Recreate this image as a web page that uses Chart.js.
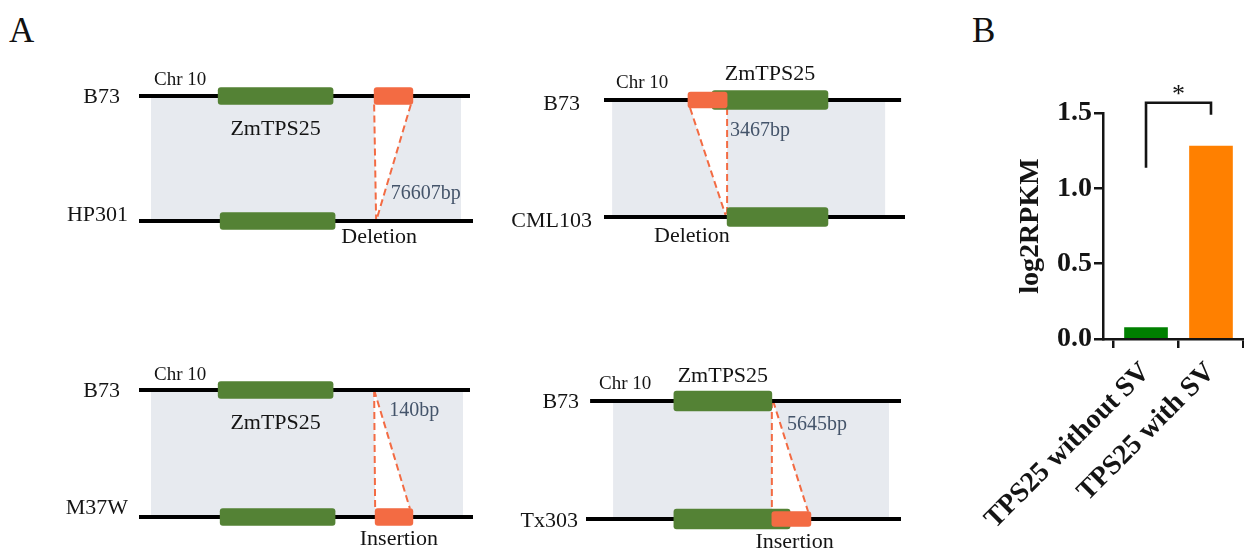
<!DOCTYPE html>
<html>
<head>
<meta charset="utf-8">
<script src="https://cdn.jsdelivr.net/npm/chart.js@4.4.1/dist/chart.umd.min.js"></script>
<style>
  html, body { margin: 0; padding: 0; background: #fff; }
  #fig { position: relative; width: 1244px; height: 550px; overflow: hidden; background: #fff; }
  #fig canvas { position: absolute; }
  .tag { position: absolute; font-family: "Liberation Serif", "Times New Roman", serif;
         font-size: 35px; line-height: 35px; color: #111; }
</style>
</head>
<body>
<div id="fig">
  <div class="tag" style="left:9px; top:13px;">A</div>
  <div class="tag" style="left:972px; top:13px;">B</div>
  <canvas id="sv0" width="480" height="275" style="left:0; top:0;"></canvas>
  <canvas id="sv1" width="480" height="275" style="left:480px; top:0;"></canvas>
  <canvas id="sv2" width="480" height="275" style="left:0; top:275px;"></canvas>
  <canvas id="sv3" width="480" height="275" style="left:480px; top:275px;"></canvas>
  <canvas id="expr" width="284" height="550" style="left:960px; top:0;"></canvas>
</div>
<script>
// ---------- Panel A: ZmTPS25 locus on Chr 10, B73 vs. four inbred lines ----------
// Track coordinates run 0–100 along each drawn chromosome segment.
const refLine = 'B73';
const chrom = 'Chr 10';
const geneName = 'ZmTPS25';
const accessions = ['HP301', 'CML103', 'M37W', 'Tx303'];
const svTypes = ['Deletion', 'Deletion', 'Insertion', 'Insertion'];
const svLengths = ['76607bp', '3467bp', '140bp', '5645bp'];
const refTrack = [[0, 99.1], [0, 98.7], [0, 99.1], [1.3, 100]];
const altTrack = [[0, 100], [0, 100], [0, 100], [0, 100]];
const syntenyBlock = [[3.6, 96.4], [2.7, 93.4], [3.6, 97.0], [8.6, 96.2]];
const refGene = [[23.7, 58.1], [35.9, 74.4], [23.7, 58.1], [27.9, 59.0]];
const altGene = [[24.3, 58.7], [40.9, 74.4], [24.3, 58.7], [27.9, 64.8]];
const svSpan = [[70.4, 82.0], [27.9, 40.9], [70.7, 82.0], [59.0, 71.4]];
const svOnRef = [true, true, false, false];
const linkRef = [[70.4, 81.4], [28.6, 40.9], [70.4, 70.4], [59.0, 59.4]];
const linkAlt = [[71.0, 71.0], [40.6, 40.9], [70.7, 81.1], [59.0, 70.5]];
const sizeLabelAt = [[75.4, 0.176], [41.9, 0.692], [74.9, 0.795], [63.8, 0.754]];
const typeLabelAt = [71.9, 29.2, 77.8, 66.2];

// ---------- Panel B: expression ----------
const groups = ['TPS25 without SV', 'TPS25 with SV'];
const log2RPKM = [0.075, 1.28];
const yTicks = [0, 0.5, 1.0, 1.5];
const bracketY = [1.137, 1.568, 1.488];   // left leg end, bar, right leg end
const sigMark = '*';

// ---------- look ----------
const SERIF = '"Liberation Serif", "Times New Roman", serif';
const GENE_GREEN = '#548235';
const SV_ORANGE = '#F36B43';
const BLOCK_GREY = '#E7EAEF';
const NOTE_BLUE = '#44546A';
const INK = '#141414';

// placement of each locus diagram on its canvas
const panelLayout = [
  { pad: { left: 139, right: 7,  top: 96,  bottom: 54 }, geneH: 17, svH: 17, refGap: 19, altGap: 11, refDy: 7,  altDy: 0,  chrDx: 15, chrDy: 11, geneDy: 39,  typeDy: 22 },
  { pad: { left: 124, right: 55, top: 100, bottom: 58 }, geneH: 19, svH: 16, refGap: 24, altGap: 12, refDy: 10, altDy: 10, chrDx: 12, chrDy: 12, geneDy: -20, typeDy: 25 },
  { pad: { left: 139, right: 7,  top: 115, bottom: 33 }, geneH: 17, svH: 17, refGap: 19, altGap: 11, refDy: 7,  altDy: -3, chrDx: 15, chrDy: 10, geneDy: 39,  typeDy: 28 },
  { pad: { left: 106, right: 59, top: 126, bottom: 31 }, geneH: 20, svH: 15, refGap: 11, altGap: 8,  refDy: 7,  altDy: 8,  chrDx: 9,  chrDy: 12, geneDy: -19, typeDy: 29 }
];

function locusPlugin(i, lay) {
  return {
    id: 'locus' + i,
    beforeDatasetsDraw(chart) {
      const { ctx, scales: { x, y } } = chart;
      const yRef = y.getPixelForValue(1), yAlt = y.getPixelForValue(0);
      const px = v => x.getPixelForValue(v);
      ctx.save();
      // collinear block between the two haplotypes
      ctx.fillStyle = BLOCK_GREY;
      ctx.fillRect(px(syntenyBlock[i][0]), yRef, px(syntenyBlock[i][1]) - px(syntenyBlock[i][0]), yAlt - yRef);
      // wedge joining the SV to its breakpoint
      const ya = svOnRef[i] ? yRef + lay.svH / 2 : yRef;
      const yb = svOnRef[i] ? yAlt : yAlt - lay.svH / 2;
      const a0 = px(linkRef[i][0]), a1 = px(linkRef[i][1]);
      const b0 = px(linkAlt[i][0]), b1 = px(linkAlt[i][1]);
      ctx.fillStyle = '#ffffff';
      ctx.beginPath();
      ctx.moveTo(a0, ya); ctx.lineTo(a1, ya); ctx.lineTo(b1, yb); ctx.lineTo(b0, yb);
      ctx.closePath(); ctx.fill();
      ctx.strokeStyle = SV_ORANGE; ctx.lineWidth = 2; ctx.setLineDash([7, 4]);
      ctx.beginPath();
      ctx.moveTo(a0, ya); ctx.lineTo(b0, yb);
      ctx.moveTo(a1, ya); ctx.lineTo(b1, yb);
      ctx.stroke();
      // chromosome segments
      ctx.setLineDash([]);
      ctx.strokeStyle = '#000'; ctx.lineWidth = 4; ctx.lineCap = 'butt';
      ctx.beginPath();
      ctx.moveTo(px(refTrack[i][0]), yRef); ctx.lineTo(px(refTrack[i][1]), yRef);
      ctx.moveTo(px(altTrack[i][0]), yAlt); ctx.lineTo(px(altTrack[i][1]), yAlt);
      ctx.stroke();
      ctx.restore();
    },
    afterDatasetsDraw(chart) {
      const { ctx, scales: { x, y } } = chart;
      const yRef = y.getPixelForValue(1), yAlt = y.getPixelForValue(0);
      const px = v => x.getPixelForValue(v);
      ctx.save();
      ctx.textBaseline = 'alphabetic';
      // line names
      ctx.fillStyle = INK; ctx.font = '22px ' + SERIF; ctx.textAlign = 'right';
      ctx.fillText(refLine, px(refTrack[i][0]) - lay.refGap, yRef + lay.refDy);
      ctx.fillText(accessions[i], px(altTrack[i][0]) - lay.altGap, yAlt + lay.altDy);
      // chromosome tag
      ctx.textAlign = 'left'; ctx.font = '19px ' + SERIF;
      ctx.fillText(chrom, px(refTrack[i][0]) + lay.chrDx, yRef - lay.chrDy);
      // gene name
      ctx.textAlign = 'center'; ctx.font = '22px ' + SERIF;
      ctx.fillText(geneName, px((refGene[i][0] + refGene[i][1]) / 2), yRef + lay.geneDy);
      // SV type under the accession track
      ctx.fillText(svTypes[i], px(typeLabelAt[i]), yAlt + lay.typeDy);
      // SV length
      ctx.textAlign = 'left'; ctx.font = '20px ' + SERIF; ctx.fillStyle = NOTE_BLUE;
      ctx.fillText(svLengths[i], px(sizeLabelAt[i][0]), y.getPixelForValue(sizeLabelAt[i][1]));
      ctx.restore();
    }
  };
}

const barCommon = { grouped: false, clip: false, borderRadius: 3, borderSkipped: false, borderWidth: 0 };

panelLayout.forEach((lay, i) => {
  new Chart(document.getElementById('sv' + i), {
    type: 'bar',
    data: {
      datasets: [
        Object.assign({
          label: 'SV',
          data: [{ x: svSpan[i], y: svOnRef[i] ? 1 : 0 }],
          backgroundColor: SV_ORANGE,
          barThickness: lay.svH, maxBarThickness: lay.svH,
          order: 0
        }, barCommon),
        Object.assign({
          label: geneName,
          data: [{ x: refGene[i], y: 1 }, { x: altGene[i], y: 0 }],
          backgroundColor: GENE_GREEN,
          barThickness: lay.geneH, maxBarThickness: lay.geneH,
          order: 1
        }, barCommon)
      ]
    },
    options: {
      indexAxis: 'y',
      responsive: false,
      animation: false,
      events: [],
      layout: { padding: lay.pad },
      plugins: { legend: { display: false }, tooltip: { enabled: false } },
      scales: {
        x: { type: 'linear', min: 0, max: 100, display: false, offset: false },
        y: { type: 'linear', min: 0, max: 1, display: false, offset: false }
      }
    },
    plugins: [locusPlugin(i, lay)]
  });
});

// ---------- Panel B chart ----------
const boldFont = size => ({ family: SERIF, size: size, weight: 'bold' });
const axisLine = { display: true, color: INK, width: 2.5 };
const tickMarks = len => ({ display: true, drawOnChartArea: false, drawTicks: true, tickLength: len, color: INK, lineWidth: 2.5 });

const sigPlugin = {
  id: 'sigBracket',
  afterDatasetsDraw(chart) {
    const { ctx, scales: { x, y } } = chart;
    const xl = x.getPixelForValue(1), xr = x.getPixelForValue(2);
    ctx.save();
    ctx.strokeStyle = INK; ctx.lineWidth = 2.6; ctx.lineJoin = 'miter'; ctx.lineCap = 'butt';
    ctx.beginPath();
    ctx.moveTo(xl, y.getPixelForValue(bracketY[0]));
    ctx.lineTo(xl, y.getPixelForValue(bracketY[1]));
    ctx.lineTo(xr, y.getPixelForValue(bracketY[1]));
    ctx.lineTo(xr, y.getPixelForValue(bracketY[2]));
    ctx.stroke();
    ctx.fillStyle = INK; ctx.font = '26px ' + SERIF;
    ctx.textAlign = 'center'; ctx.textBaseline = 'alphabetic';
    ctx.fillText(sigMark, (xl + xr) / 2, y.getPixelForValue(bracketY[1]) - 1);
    ctx.restore();
  }
};

new Chart(document.getElementById('expr'), {
  type: 'bar',
  data: {
    datasets: [{
      label: 'log2RPKM',
      data: groups.map((g, k) => ({ x: k + 1, y: log2RPKM[k] })),
      backgroundColor: ['#008000', '#FF8000'],
      borderWidth: 0,
      barThickness: 43
    }]
  },
  options: {
    responsive: false,
    animation: false,
    events: [],
    layout: { padding: { top: 113, right: 0, bottom: 0, left: 0 } },
    plugins: { legend: { display: false }, tooltip: { enabled: false } },
    scales: {
      x: {
        type: 'linear', min: 0.338, max: 2.508, offset: false,
        afterBuildTicks: s => { s.ticks = groups.map((g, k) => ({ value: k + 1 })); },
        afterFit: s => { s.height = 211; s.paddingLeft = 0; s.paddingRight = 0; },
        ticks: {
          callback: v => groups[v - 1] || '',
          minRotation: 45, maxRotation: 45, autoSkip: false, padding: 8,
          color: INK, font: boldFont(28)
        },
        grid: tickMarks(9),
        border: axisLine
      },
      y: {
        type: 'linear', min: 0, max: 1.5,
        afterBuildTicks: s => { s.ticks = yTicks.map(v => ({ value: v })); },
        afterFit: s => { s.width = 143; s.paddingTop = 0; s.paddingBottom = 0; },
        ticks: { callback: v => v.toFixed(1), padding: 2, color: INK, font: boldFont(28) },
        grid: tickMarks(9),
        border: axisLine,
        title: { display: true, text: 'log2RPKM', color: INK, font: boldFont(28), padding: { top: 54, bottom: 0 } }
      }
    }
  },
  plugins: [sigPlugin]
});
</script>
</body>
</html>
